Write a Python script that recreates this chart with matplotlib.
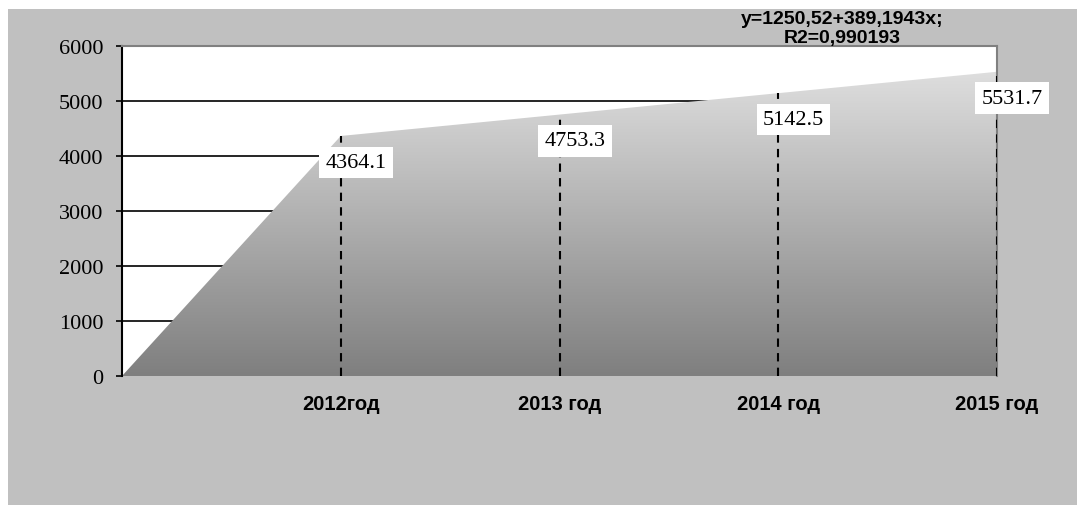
import matplotlib.pyplot as plt
import numpy as np
from matplotlib.colors import LinearSegmentedColormap
from matplotlib.patches import Rectangle, Polygon

# Data
categories = ['', '2012год', '2013 год', '2014 год', '2015 год']
values = [0, 4364.1, 4753.3, 5142.5, 5531.7]
value_labels = ['', '4364.1', '4753.3', '5142.5', '5531.7']
y_ticks = [0, 1000, 2000, 3000, 4000, 5000, 6000]
equation = 'y=1250,52+389,1943x;\nR2=0,990193'

W, H = 1078, 506
fig = plt.figure(figsize=(W / 100, H / 100), dpi=100)
fig.patch.set_facecolor('white')

# gray chart area with thin white margin on top/left
bg = Rectangle((8 / W, 0), (1077 - 8) / W, 1 - 10 / H, transform=fig.transFigure,
               facecolor='#c0c0c0', edgecolor='none', zorder=-1)
fig.add_artist(bg)

ax = fig.add_axes([122 / W, 1 - 377 / H, (997 - 122) / W, (377 - 47) / H])
ax.set_facecolor('white')

x = np.arange(len(values))
vals = np.array(values)

# area with vertical gradient
poly = Polygon(np.column_stack([np.r_[x, x[-1], x[0]], np.r_[vals, 0, 0]]),
               closed=True, facecolor='none', edgecolor='none')
ax.add_patch(poly)
cmap = LinearSegmentedColormap.from_list('grad', ['#7f7f7f', '#dedede'])
img = ax.imshow(np.linspace(0, 1, 256).reshape(-1, 1), cmap=cmap,
                extent=[x[0], x[-1], 0, vals.max()], origin='lower',
                aspect='auto', zorder=2)
img.set_clip_path(poly)

# drop lines
ax.vlines(x[1:], 0, vals[1:], colors='black', linestyles=(0, (4, 3)), lw=1.5, zorder=3)

# data labels
for xi, v, lab in zip(x, vals, value_labels):
    if lab:
        ax.annotate(lab, (xi, v), xytext=(11, -19), textcoords='offset points',
                    ha='center', va='center', fontsize=16, family='Liberation Serif',
                    bbox=dict(boxstyle='square,pad=0.28', fc='white', ec='none'),
                    zorder=5, annotation_clip=False)

ax.set_xlim(x[0], x[-1])
ax.set_ylim(0, 6000)
ax.set_yticks(y_ticks)
ax.set_yticklabels([str(t) for t in y_ticks], family='Liberation Serif', fontsize=16)
ax.set_xticks(x)
ax.set_xticklabels(categories, family='Liberation Sans', fontweight='bold', fontsize=14.5)
ax.tick_params(axis='x', length=0, pad=13)
ax.tick_params(axis='y', length=4.3, width=1.2, direction='out', pad=9)

ax.yaxis.grid(True, color='black', lw=1.2)
ax.set_axisbelow(True)

ax.spines['left'].set_color('black')
ax.spines['left'].set_linewidth(1.5)
ax.spines['bottom'].set_visible(False)
for s in ['top', 'right']:
    ax.spines[s].set_color('#808080')
    ax.spines[s].set_linewidth(1.5)

fig.text(842 / W, 1 - 11 / H, equation, ha='center', va='top', multialignment='center',
         family='Liberation Sans', fontweight='bold', fontsize=14, linespacing=1.12,
         zorder=5)

fig.savefig('out.png', dpi=100, facecolor=fig.get_facecolor())
